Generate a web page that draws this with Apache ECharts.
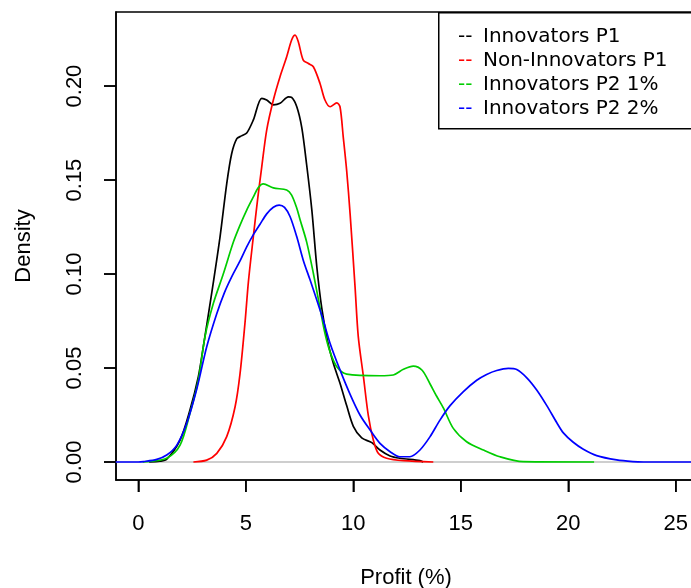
<!DOCTYPE html>
<html>
<head>
<meta charset="utf-8">
<script src="https://cdn.jsdelivr.net/npm/echarts@6/dist/echarts.min.js"></script>
<style>html,body{margin:0;padding:0;background:#fff}#c{width:691px;height:588px}</style>
</head>
<body>
<div id="c"></div>
<script>
// ---- data ----
const xTicks = [0, 5, 10, 15, 20, 25];
const yTicks = [0, 0.05, 0.10, 0.15, 0.20];
const seriesNames = ["Innovators P1", "Non-Innovators P1", "Innovators P2 1%", "Innovators P2 2%"];

const blackX = [0.5,1.0,1.32,1.94,2.40,2.79,3.02,3.41,3.80,4.11,4.34,4.58,4.80,5.04,5.35,5.74,5.97,6.28,6.59,6.98,7.13,7.37,7.60,7.83,8.07,8.30,8.53,8.79,9.07,9.38,9.69,10.0,10.39,10.86,11.24,11.71,12.17,13.1,13.25];
const blackY = [0,0.0004,0.0015,0.0117,0.0277,0.0454,0.0613,0.0897,0.1198,0.148,0.164,0.172,0.1735,0.175,0.182,0.1935,0.1926,0.190,0.1908,0.1943,0.194,0.189,0.178,0.158,0.134,0.104,0.082,0.065,0.0525,0.0419,0.030,0.019,0.0128,0.0103,0.0064,0.0032,0.002,0.0007,0];

const redX = [2.56,3.18,3.65,4.11,4.50,4.73,4.96,5.12,5.35,5.55,5.74,5.97,6.28,6.59,6.90,7.13,7.29,7.44,7.67,7.91,8.14,8.45,8.68,8.92,9.23,9.38,9.53,9.69,9.85,10.08,10.23,10.47,10.70,10.93,11.16,11.55,12.33,13.72];
const redY = [0,0.001,0.0046,0.0135,0.0294,0.047,0.074,0.096,0.120,0.140,0.157,0.1766,0.1926,0.205,0.2156,0.2245,0.2271,0.2236,0.2138,0.212,0.2103,0.2014,0.1926,0.189,0.1911,0.189,0.173,0.155,0.132,0.0932,0.0667,0.0454,0.0245,0.0117,0.0046,0.002,0.0007,0];

const greenX = [0.2,0.54,1.32,1.94,2.40,2.79,3.10,3.49,3.95,4.42,4.73,5.04,5.35,5.58,5.81,6.28,6.90,7.13,7.37,7.52,7.83,8.14,8.45,8.68,8.92,9.23,9.69,11.24,11.86,12.33,12.79,13.2,13.57,13.85,14.2,14.65,15.27,16.05,16.82,17.9,21.2];
const greenY = [0,0.0003,0.002,0.009,0.0259,0.0436,0.0667,0.0844,0.100,0.117,0.126,0.134,0.141,0.146,0.148,0.1458,0.1447,0.142,0.135,0.129,0.117,0.1004,0.082,0.0685,0.0585,0.0507,0.0468,0.0459,0.0463,0.0493,0.051,0.0488,0.0415,0.0355,0.0285,0.0179,0.0108,0.0064,0.0028,0.0002,0];

const blueX = [-1.5,0.0,0.23,0.86,1.32,1.79,2.25,2.72,3.18,3.65,4.0,4.34,4.73,5.04,5.35,5.66,5.97,6.28,6.55,6.80,7.06,7.37,7.67,7.99,8.30,8.60,8.92,9.38,9.85,10.31,10.78,11.24,11.71,12.17,12.63,13.1,13.57,14.03,14.5,15.12,15.74,16.2,16.67,17.21,17.6,18.07,18.53,19.0,19.46,19.77,20.23,20.7,21.32,22.25,23.0,23.5,27];
const blueY = [0,0,0.0002,0.0014,0.0037,0.009,0.0206,0.039,0.0613,0.079,0.090,0.0985,0.107,0.1145,0.121,0.1265,0.132,0.1355,0.1367,0.1355,0.1305,0.1198,0.1074,0.0968,0.0862,0.0755,0.0631,0.049,0.036,0.025,0.017,0.0099,0.0055,0.0028,0.0028,0.0064,0.0135,0.0223,0.030,0.0375,0.0435,0.0466,0.0487,0.0498,0.0492,0.0448,0.0383,0.030,0.021,0.0155,0.0105,0.0068,0.0034,0.0011,0.0002,0,0];

const colors = ["#000000", "#ff0000", "#00cd00", "#0000ff"];
const xsAll = [blackX, redX, greenX, blueX];
const ysAll = [blackY, redY, greenY, blueY];

// ---- chart ----
const X_MIN = -1.04, X_MAX = 25.94, Y_MIN = -0.00957, Y_MAX = 0.2394;
const GRID = {left: 116, top: 12, width: 580, height: 468};
const TICK_LEN = 12;
const chart = echarts.init(document.getElementById('c'), null, {renderer: 'canvas'});
const tickFont = {fontFamily: 'Liberation Sans, Arial, sans-serif', fontSize: 22, color: '#000'};
const zip = (xs, ys) => xs.map((x, i) => [x, ys[i]]);

const series = [{
  type: 'line', name: 'zero', silent: true, symbol: 'none',
  data: [[-1.5, 0], [27, 0]],
  lineStyle: {color: '#bebebe', width: 1.5}, z: 1
}];
seriesNames.forEach((n, i) => {
  series.push({
    type: 'line', name: n, symbol: 'none', smooth: 0.3,
    data: zip(xsAll[i], ysAll[i]),
    lineStyle: {color: colors[i], width: 1.7}, z: 2 + i
  });
});

const legendGraphics = [{
  type: 'rect', left: 438, top: 12, z: 100,
  shape: {width: 300, height: 116},
  style: {fill: '#fff', stroke: '#000', lineWidth: 1.5}
}];
seriesNames.forEach((n, i) => {
  const y = 37 + i * 24;
  legendGraphics.push({type: 'text', x: 458, y: y, z: 101,
    style: {text: '--', fill: colors[i], font: '20px "DejaVu Sans"', textVerticalAlign: 'middle'}});
  legendGraphics.push({type: 'text', x: 483, y: y, z: 101,
    style: {text: n, fill: '#000', font: '20px "DejaVu Sans"', textVerticalAlign: 'middle'}});
});

const axisLineStyle = {show: true, onZero: false, lineStyle: {color: '#000', width: 1.5}};

const option = {
  animation: false,
  backgroundColor: '#fff',
  grid: Object.assign({show: true, borderColor: '#000', borderWidth: 1.5,
         backgroundColor: 'transparent', containLabel: false, outerBoundsMode: 'none'}, GRID),
  xAxis: {
    type: 'value', min: X_MIN, max: X_MAX,
    name: 'Profit (%)', nameLocation: 'middle', nameGap: 87,
    nameTextStyle: tickFont,
    axisLine: axisLineStyle,
    axisTick: {show: true, inside: false, length: TICK_LEN, customValues: xTicks, lineStyle: {color: '#000', width: 1.5}},
    axisLabel: {show: true, customValues: xTicks, margin: 33, ...tickFont, formatter: v => String(v)},
    splitLine: {show: false}
  },
  yAxis: {
    type: 'value', min: Y_MIN, max: Y_MAX,
    name: 'Density', nameLocation: 'middle', nameGap: 81, nameRotate: 90,
    nameTextStyle: tickFont,
    axisLine: axisLineStyle,
    axisTick: {show: true, inside: false, length: TICK_LEN, customValues: yTicks, lineStyle: {color: '#000', width: 1.5}},
    axisLabel: {show: true, customValues: yTicks, rotate: 90, margin: 30, ...tickFont, formatter: v => v.toFixed(2)},
    splitLine: {show: false}
  },
  series: series,
  graphic: legendGraphics
};
chart.setOption(option);

// outward tick marks as filled rects, positioned through the chart's own axis scales
function toPx(x, y) {
  let p = null;
  try { p = chart.convertToPixel({seriesIndex: 0}, [x, y]); } catch (e) { p = null; }
  if (!p || !isFinite(p[0]) || !isFinite(p[1])) {
    p = [GRID.left + (x - X_MIN) / (X_MAX - X_MIN) * GRID.width,
         GRID.top + (Y_MAX - y) / (Y_MAX - Y_MIN) * GRID.height];
  }
  return p;
}
const tickGraphics = [];
xTicks.forEach(v => {
  const p = toPx(v, Y_MIN);
  tickGraphics.push({type: 'rect', z: 120, silent: true,
    shape: {x: p[0] - 0.75, y: p[1], width: 1.5, height: TICK_LEN},
    style: {fill: '#000'}});
});
yTicks.forEach(v => {
  const p = toPx(X_MIN, v);
  tickGraphics.push({type: 'rect', z: 120, silent: true,
    shape: {x: p[0] - TICK_LEN, y: p[1] - 0.75, width: TICK_LEN, height: 1.5},
    style: {fill: '#000'}});
});
option.graphic = legendGraphics.concat(tickGraphics);
chart.setOption(option, true);
</script>
</body>
</html>
